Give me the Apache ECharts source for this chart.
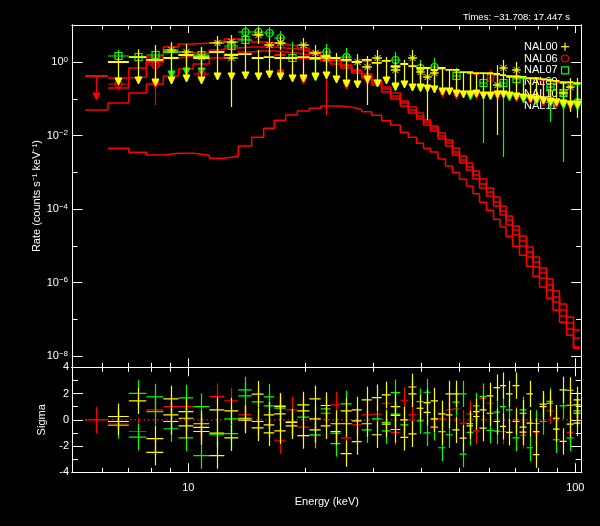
<!DOCTYPE html>
<html><head><meta charset="utf-8">
<script src="https://cdn.jsdelivr.net/npm/echarts@6/dist/echarts.min.js"></script>
<style>html,body{margin:0;padding:0;background:#000;}#c{width:600px;height:526px;}</style>
</head><body><div id="c"></div>
<script>
// ---------- data ----------
const binEdges = [5.41,6.20,7.02,7.79,8.62,9.43,10.30,11.33,12.39,13.46,14.58,15.66,16.68,17.85,19.13,20.54,21.98,23.30,24.76,26.44,28.06,29.78,31.60,33.34,35.30,37.02,38.88,40.53,42.25,44.18,46.19,48.15,50.21,52.35,54.42,56.55,58.95,61.46,63.88,66.22,68.83,71.75,74.80,77.75,80.82,84.26,87.58,91.03,94.91,98.93,103.1];

const modelU1 = [null,0.200,0.699,1.39,2.61,3.15,3.36,3.80,4.31,4.05,3.57,3.36,3.15,2.78,2.45,1.91,1.48,1.155,0.844,0.617,0.480,0.330,0.212,0.146,0.0883,0.0606,0.0416,0.0268,0.0184,0.0119,0.00764,0.00463,0.00280,0.00181,0.00109,6.62e-4,3.77e-4,2.14e-4,1.22e-4,6.50e-5,3.47e-5,1.85e-5,9.30e-6,4.97e-6,2.49e-6,1.25e-6,5.89e-7,2.60e-7,1.15e-7,5.10e-8];
const modelU2 = [null,0.374,0.398,1.02,1.31,1.48,1.79,2.16,2.45,2.61,2.61,2.61,2.45,2.30,2.03,1.68,1.39,1.085,0.793,0.579,0.423,0.273,0.187,0.121,0.0778,0.0502,0.0345,0.0236,0.0162,0.00982,0.00633,0.00360,0.00218,0.00141,8.51e-4,4.84e-4,2.93e-4,1.56e-4,8.89e-5,5.06e-5,2.70e-5,1.36e-5,6.80e-6,3.63e-6,1.82e-6,8.58e-7,4.04e-7,1.79e-7,7.91e-8,3.09e-8];
const modelU3 = [0.0502,0.0778,0.146,0.256,0.423,0.657,0.899,1.31,1.68,1.91,2.03,2.03,1.91,1.79,1.58,1.31,1.085,0.899,0.699,0.511,0.374,0.241,0.155,0.100,0.0645,0.0416,0.0285,0.0196,0.0134,0.00814,0.00525,0.00298,0.00181,0.00116,6.62e-4,3.77e-4,2.28e-4,1.22e-4,6.92e-5,3.70e-5,1.97e-5,9.90e-6,4.97e-6,2.65e-6,1.33e-6,6.27e-7,2.95e-7,1.23e-7,5.43e-8,1.76e-8];
const modelD = [null,4.54e-3,3.54e-3,2.98e-3,3.32e-3,3.32e-3,2.93e-3,2.43e-3,2.75e-3,5.25e-3,9.06e-3,1.59e-2,2.63e-2,3.67e-2,4.71e-2,5.58e-2,6.45e-2,6.45e-2,5.94e-2,5.24e-2,4.51e-2,3.60e-2,2.56e-2,1.96e-2,1.24e-2,9.06e-3,6.22e-3,4.54e-3,3.60e-3,2.32e-3,1.50e-3,1.01e-3,6.50e-4,4.27e-4,2.63e-4,1.54e-4,9.30e-5,5.29e-5,3.26e-5,1.82e-5,9.72e-6,5.53e-6,2.77e-6,1.48e-6,7.57e-7,3.72e-7,1.75e-7,8.27e-8,3.66e-8,1.62e-8];

// [bin, value, top, arrow tip]
const yellowArrows = [[1,1.02,1.39,0.241],[2,1.39,2.16,0.256],[3,1.16,2.96,0.226],[4,1.31,3.15,0.256],[5,1.58,2.96,0.291],[6,1.31,2.61,0.256],[7,1.91,4.05,0.330],[8,1.58,4.31,0.330],[9,1.68,5.54,0.351],[10,1.31,2.16,0.330],[11,1.39,2.16,0.374],[12,1.31,1.91,0.330],[13,1.31,2.16,0.291],[14,1.39,1.91,0.291],[15,1.31,1.91,0.330],[16,1.48,1.91,0.351],[17,1.31,1.79,0.273],[18,1.16,1.58,0.212],[19,1.02,1.39,0.200],[20,1.16,1.48,0.273],[21,0.96,1.31,0.212],[22,1.09,1.39,0.256],[23,0.79,1.02,0.176],[24,0.90,1.16,0.200],[25,0.79,0.96,0.165],[26,0.70,0.70,0.165],[27,0.70,0.70,0.155],[28,0.62,0.62,0.146],[29,0.70,0.70,0.129],[30,0.62,0.62,0.129],[31,0.62,0.62,0.113],[32,0.54,0.54,0.107],[33,0.54,0.54,0.107],[34,0.51,0.51,0.113],[35,0.51,0.51,0.100],[36,0.51,0.51,0.100],[37,0.48,0.48,0.107],[38,0.45,0.45,0.107],[39,0.42,0.42,0.100],[40,0.40,0.40,0.094],[41,0.40,0.40,0.088],[42,0.37,0.37,0.083],[43,0.37,0.37,0.078],[44,0.35,0.35,0.073],[45,0.33,0.33,0.069],[46,0.31,0.31,0.065],[47,0.29,0.29,0.061],[48,0.29,0.29,0.057],[49,0.27,0.27,0.057]];
const redArrows = [[0,0.423,0.423,0.094],[3,1.085,1.085,0.1995],[12,1.58,2.45,0.398],[14,1.31,1.31,0.256],[18,1.085,1.085,0.187],[20,1.085,1.085,0.241],[29,0.657,0.657,0.1134],[31,0.579,0.579,0.1001],[34,0.480,0.480,0.1001],[37,0.451,0.451,0.094],[40,0.374,0.374,0.0829],[42,0.351,0.351,0.0731],[44,0.330,0.330,0.0645],[46,0.291,0.291,0.0569],[48,0.273,0.273,0.0502]];
const greenArrows = [[4,1.91,1.91,0.374],[5,1.58,1.58,0.451],[6,1.48,1.48,0.451],[15,1.23,1.23,0.310],[23,0.745,0.745,0.1652],[26,0.657,0.657,0.1552],[33,0.511,0.511,0.094],[36,0.480,0.480,0.094],[39,0.398,0.398,0.0883],[41,0.374,0.374,0.0778],[43,0.351,0.351,0.0687],[45,0.310,0.310,0.0606],[47,0.273,0.273,0.0534],[49,0.256,0.256,0.0502]];

// [bin, value, top, bottom]
const redCircles = [[1,0.256,0.40,0.17],[3,0.844,1.394,0.0687],[6,0.480,0.699,0.33],[16,1.31,2.16,0.0367],[36,0.374,0.617,0.226]];
const greenSquares = [[1,1.484,2.16,1.02],[2,1.394,2.30,0.793],[3,1.58,2.61,0.957],[6,1.58,2.61,0.899],[8,2.78,4.31,1.79],[9,4.05,5.90,2.61],[13,1.31,3.57,0.374],[31,0.423,0.699,0.241],[35,0.273,0.480,0.00633],[38,0.273,0.480,0.00263],[40,0.351,0.579,0.1995],[45,0.212,0.374,0.0236],[47,0.146,0.256,0.00192]];
const greenRings = [[9,6.69,9.75,4.59],[10,6.69,9.75,4.05],[11,6.28,9.16,4.05],[12,4.59,7.12,2.78],[16,1.91,3.15,1.155],[18,1.39,2.45,0.793],[23,1.155,1.91,0.617],[26,0.699,1.155,0.398],[28,0.745,1.31,0.423],[49,0.0829,0.155,0.0443]];
const yellowStars = [[4,2.16,3.57,1.155],[5,1.91,3.15,1.02],[6,1.39,2.45,0.79],[7,3.36,5.21,2.16],[8,3.57,5.54,2.30],[8,1.31,2.16,0.061],[10,5.54,8.60,3.15],[11,2.96,4.59,1.91],[12,3.36,5.21,2.16],[14,2.96,4.59,1.91],[15,1.79,2.96,1.085],[16,1.31,2.16,0.79],[19,1.02,1.68,0.617],[20,0.745,1.31,0.0687],[21,1.31,2.16,0.793],[23,0.617,1.02,0.374],[25,1.31,2.16,0.699],[26,0.544,0.899,0.330],[27,0.398,0.699,0.0268],[28,0.511,0.844,0.291],[37,0.241,0.844,0.0105],[38,0.699,1.155,0.398],[40,0.617,1.02,0.351],[47,0.146,0.256,0.073],[48,0.212,0.374,0.0443]];
const yellowCrosses = [[49,0.273,0.374,0.0304]];

// residuals [bin, sigma]
const resYellow = [[1,0.25],[1,-0.13],[2,1.44],[3,-1.44],[3,-2.48],[4,1.59],[4,0.38],[4,-0.13],[5,0.63],[5,0.12],[5,-0.46],[6,-0.30],[6,-0.58],[6,-0.89],[7,0.76],[7,-1.01],[7,-2.73],[8,0.68],[8,-1.37],[9,0.12],[9,-0.03],[10,1.95],[10,-0.13],[10,-0.61],[11,0.38],[11,-0.38],[11,-0.99],[12,1.01],[12,0.45],[12,-0.84],[13,-0.2],[13,-0.46],[14,1.14],[14,0.68],[14,-1.21],[15,1.59],[15,0.07],[15,-0.76],[16,1.09],[16,-0.46],[17,-0.30],[17,-0.89],[18,0.68],[18,-0.30],[18,-2.58],[19,0.76],[19,-0.08],[19,-1.67],[20,1.52],[20,-0.30],[21,1.69],[21,-1.14],[22,1.90],[22,-0.33],[23,1.01],[23,0.33],[23,-0.74],[24,0.0],[24,-1.34],[25,2.50],[25,1.97],[25,-1.07],[26,0.88],[27,1.31],[27,0.56],[28,1.44],[28,0.07],[29,0.45],[29,-0.91],[30,1.97],[30,0.38],[31,1.97],[31,-0.76],[32,-1.39],[33,-0.30],[33,-0.46],[34,0.25],[34,0.63],[35,0.76],[35,-0.63],[36,1.82],[36,0.50],[37,2.45],[37,-0.13],[38,2.60],[38,-0.50],[39,1.97],[39,-0.96],[40,2.60],[40,-0.13],[41,0.50],[41,-0.56],[41,-0.94],[42,1.97],[42,-0.25],[43,-2.66],[43,-0.89],[44,1.19],[44,1.01],[45,1.26],[46,0.12],[46,-0.71],[47,2.28],[47,-1.65],[48,2.25],[48,1.11],[48,-0.33],[49,1.52],[49,1.14],[49,0.50],[49,-0.25]];
const resGreen = [[1,-0.43],[2,2.02],[2,-1.32],[3,1.74],[3,0.63],[4,-0.68],[5,1.67],[5,-1.37],[6,1.01],[6,-2.73],[7,-1.14],[8,0.07],[8,-1.06],[9,2.28],[9,1.82],[10,1.36],[11,1.74],[11,1.06],[12,1.06],[12,0.88],[13,-0.15],[14,0.20],[15,-1.14],[16,0.83],[16,0.50],[17,-1.01],[17,-1.82],[18,1.21],[20,-0.76],[21,0.07],[22,-0.20],[22,-0.84],[23,2.07],[23,0.43],[24,-0.38],[26,1.39],[26,-0.08],[27,2.10],[27,-0.99],[28,-0.58],[29,-2.13],[30,-1.14],[31,1.34],[32,1.97],[32,-2.61],[33,-0.96],[34,1.06],[35,1.77],[36,-0.81],[37,0.58],[37,-0.87],[38,1.01],[39,0.76],[40,-1.37],[41,0.76],[42,-2.13],[43,-0.28],[44,-0.13],[45,1.40],[46,-1.52],[47,1.06],[48,-1.37],[49,0.68]];
const resRed = [[0,0],[1,-0.33],[2,-0.89],[3,0.76],[4,1.01],[5,1.01],[6,-0.89],[7,1.77],[8,1.44],[9,0.38],[12,-1.60],[13,0.76],[14,-0.56],[15,-1.21],[17,1.14],[18,-1.37],[19,-0.38],[20,0.38],[21,0.43],[22,1.26],[23,-0.96],[24,1.49],[25,0.38],[26,0.88],[28,-0.50],[29,0.07],[30,0.76],[31,0.83],[32,-0.25],[33,0.45],[34,-0.84],[35,1.64],[36,1.26],[38,-0.89],[40,0],[41,-1.19],[43,-0.96],[45,0.68],[46,0.12],[48,-0.96],[49,0.68]];

// ticks
const energyMajor = [10, 100];
const energyMinor = [6,7,8,9,20,30,40,50,60,70,80,90];
const rateMajor = [1e-8,1e-6,1e-4,1e-2,1];
const rateMinor = [1e-7,1e-5,1e-3,1e-1,10];
const sigmaMajor = [-4,-2,0,2,4];
const sigmaMinor = [-3,-1,1,3];
const legendNames = ['NAL00','NAL06','NAL07','NAL09','NAL10','NAL11'];
const titleText = 'Times: \u221231.708: 17.447 s';

// ---------- build ----------
const lg = Math.log10;
const X_MIN = lg(5.006), X_MAX = 2.0165;
const Y_MIN = -8.308, Y_MAX = 1.016;
const S_MIN = -4, S_MAX = 4;
const FONT = '"Liberation Sans", Arial, sans-serif';
const YEL = '#ffff00', RED = '#ff0000', GRN = '#00ff00', WHT = '#ffffff';

function stepLine(vals) {
  const pts = []; let last = -1;
  vals.forEach((v, k) => { if (v != null) { pts.push([lg(binEdges[k]), lg(v)]); last = k; } });
  if (last >= 0) pts.push([lg(binEdges[last + 1]), lg(vals[last])]);
  return pts;
}
function rows(list) { return list.map(d => [lg(binEdges[d[0]]), lg(binEdges[d[0] + 1]), lg(d[1]), lg(d[2]), lg(d[3])]); }
function resRows(list) { return list.map(d => [lg(binEdges[d[0]]), lg(binEdges[d[0] + 1]), d[1], d[1] + 1, d[1] - 1]); }

function render(color, sym, lw) {
  return function (params, api) {
    const pL = api.coord([api.value(0), api.value(2)]);
    const pR = api.coord([api.value(1), api.value(2)]);
    const pT = api.coord([api.value(0), api.value(3)]);
    const pB = api.coord([api.value(0), api.value(4)]);
    const cx = Math.round((pL[0] + pR[0]) / 2) + 0.5, cy = pL[1], bot = pB[1];
    const st = { stroke: color, lineWidth: lw, fill: 'none' };
    const ch = [
      { type: 'line', shape: { x1: pL[0], y1: cy, x2: pR[0], y2: cy }, style: { stroke: color, lineWidth: sym === 'arrow' ? lw + 0.6 : lw } },
      { type: 'line', shape: { x1: cx, y1: pT[1], x2: cx, y2: bot }, style: st }
    ];
    if (sym === 'arrow') {
      ch.push({ type: 'polygon', shape: { points: [[cx - 3.5, bot - 7], [cx + 3.5, bot - 7], [cx, bot]] }, style: { fill: color, stroke: color, lineWidth: 1 } });
    } else if (sym === 'circle') {
      ch.push({ type: 'circle', shape: { cx: cx, cy: cy, r: 3.5 }, style: st });
    } else if (sym === 'square') {
      ch.push({ type: 'rect', shape: { x: cx - 3.5, y: cy - 3.5, width: 7, height: 7 }, style: st });
    } else if (sym === 'star') {
      [0, 45, 90, 135].forEach(a => {
        const r = a * Math.PI / 180, dx = 4.5 * Math.cos(r), dy = 4.5 * Math.sin(r);
        ch.push({ type: 'line', shape: { x1: cx - dx, y1: cy - dy, x2: cx + dx, y2: cy + dy }, style: { stroke: color, lineWidth: 1 } });
      });
    }
    return { type: 'group', children: ch };
  };
}
function custom(grid, data, color, sym, lw, z) {
  const ai = grid === 0 ? 0 : 4;
  return { type: 'custom', xAxisIndex: ai, yAxisIndex: ai, data: data, renderItem: render(color, sym, lw), z: z, silent: true, clip: true, animation: false };
}
function model(vals) {
  return { type: 'line', xAxisIndex: 0, yAxisIndex: 0, data: stepLine(vals), step: 'end', showSymbol: false, symbol: 'none', silent: true, z: 2,
    lineStyle: { color: RED, width: 1.5 }, animation: false };
}

function axis(grid, pos, min, max, ticks, len, extra) {
  return Object.assign({
    type: 'value', gridIndex: grid, position: pos, min: min, max: max,
    splitLine: { show: false }, minorTick: { show: false },
    axisLine: { show: true, onZero: false, lineStyle: { color: WHT, width: 1 } },
    axisTick: { show: true, inside: true, length: len, customValues: ticks, lineStyle: { color: WHT, width: 1 } },
    axisLabel: { show: false }
  }, extra || {});
}
const xMaj = energyMajor.map(lg), xMin = energyMinor.map(lg);
const yMaj = rateMajor.map(lg), yMin = rateMinor.map(lg);
const xFmt = v => String(Math.round(Math.pow(10, v)));
const yFmt = v => { const e = Math.round(v); return '{b|10}{s|' + (e < 0 ? '\u2212' + (-e) : String(e)) + '}'; };

const gTop = { left: 72, top: 25, width: 509.7, height: 342.3 };
const gBot = { left: 72, top: 367.3, width: 509.7, height: 105 };

const option = {
  backgroundColor: '#000',
  animation: false,
  title: { text: titleText, right: 30, top: 12, padding: 0, textStyle: { color: WHT, fontSize: 9.5, fontWeight: 'normal', fontFamily: FONT } },
  grid: [gTop, gTop, gBot, gBot],
  xAxis: [
    axis(0, 'bottom', X_MIN, X_MAX, xMaj, 9),
    axis(0, 'top', X_MIN, X_MAX, xMaj, 8),
    axis(1, 'bottom', X_MIN, X_MAX, xMin, 4.5),
    axis(1, 'top', X_MIN, X_MAX, xMin, 4.5),
    axis(2, 'bottom', X_MIN, X_MAX, xMaj, 9, { axisLabel: { show: true, customValues: xMaj, formatter: xFmt, color: WHT, fontSize: 11, fontFamily: FONT, margin: 10 },
      name: 'Energy (keV)', nameLocation: 'middle', nameGap: 24, nameMoveOverlap: false, nameTextStyle: { color: WHT, fontSize: 11, fontFamily: FONT } }),
    axis(2, 'top', X_MIN, X_MAX, xMaj, 9),
    axis(3, 'bottom', X_MIN, X_MAX, xMin, 4.5),
    axis(3, 'top', X_MIN, X_MAX, xMin, 4.5)
  ],
  yAxis: [
    axis(0, 'left', Y_MIN, Y_MAX, yMaj, 10.5, {
      axisLabel: { show: true, customValues: yMaj, formatter: yFmt, color: WHT, margin: 4,
        rich: { b: { fontSize: 11, fontFamily: FONT, color: WHT, lineHeight: 13 }, s: { fontSize: 8, fontFamily: FONT, color: WHT, lineHeight: 7, verticalAlign: 'top' } } },
      name: 'Rate (counts s\u207B\u00B9 keV\u207B\u00B9)', nameLocation: 'middle', nameGap: 30, nameMoveOverlap: false, nameTextStyle: { color: WHT, fontSize: 11, fontFamily: FONT } }),
    axis(0, 'right', Y_MIN, Y_MAX, yMaj, 10.5),
    axis(1, 'left', Y_MIN, Y_MAX, yMin, 5.5),
    axis(1, 'right', Y_MIN, Y_MAX, yMin, 5.5),
    axis(2, 'left', S_MIN, S_MAX, sigmaMajor, 11, {
      axisLabel: { show: true, customValues: sigmaMajor, formatter: v => String(v), color: WHT, fontSize: 11, fontFamily: FONT, margin: 3 },
      name: 'Sigma', nameLocation: 'middle', nameGap: 25, nameMoveOverlap: false, nameTextStyle: { color: WHT, fontSize: 11, fontFamily: FONT } }),
    axis(2, 'right', S_MIN, S_MAX, sigmaMajor, 11),
    axis(3, 'left', S_MIN, S_MAX, sigmaMinor, 6),
    axis(3, 'right', S_MIN, S_MAX, sigmaMinor, 6)
  ],
  graphic: [].concat(
    legendNames.map((n, i) => ({ type: 'text', x: 524, y: 46.7 + i * 11.8, z: 1,
      style: { text: n, fill: WHT, font: '11px ' + FONT, verticalAlign: 'middle', align: 'left' } })),
    [
      { type: 'line', z: 1, shape: { x1: 561, y1: 46.7, x2: 569, y2: 46.7 }, style: { stroke: YEL, lineWidth: 1.2 } },
      { type: 'line', z: 1, shape: { x1: 565, y1: 42.7, x2: 565, y2: 50.7 }, style: { stroke: YEL, lineWidth: 1.2 } },
      { type: 'circle', z: 1, shape: { cx: 565, cy: 58.5, r: 3.5 }, style: { stroke: RED, fill: 'none', lineWidth: 1.2 } },
      { type: 'rect', z: 1, shape: { x: 561.5, y: 66.8, width: 7, height: 7 }, style: { stroke: GRN, fill: 'none', lineWidth: 1.2 } }
    ]
  ),
  series: [
    model(modelD), model(modelU3), model(modelU2), model(modelU1),
    custom(0, rows(redArrows), RED, 'arrow', 1.2, 3),
    custom(0, rows(greenArrows), GRN, 'arrow', 1.2, 3),
    custom(0, rows(redCircles), RED, 'circle', 1.2, 4),
    custom(0, rows(greenSquares), GRN, 'square', 1.2, 4),
    custom(0, rows(greenRings), GRN, 'circle', 1.2, 4),
    custom(0, rows(yellowArrows), YEL, 'arrow', 1.2, 5),
    custom(0, rows(yellowCrosses), YEL, 'none', 1.2, 5),
    custom(0, rows(yellowStars), YEL, 'star', 1.2, 6),
    { type: 'line', xAxisIndex: 4, yAxisIndex: 4, data: [[lg(binEdges[0]), 0], [X_MAX, 0]], showSymbol: false, symbol: 'none', silent: true, z: 2,
      lineStyle: { color: RED, width: 1.5, type: [1.5, 3] }, animation: false },
    custom(2, resRows(resRed), RED, 'none', 1.2, 3),
    custom(2, resRows(resGreen), GRN, 'none', 1.2, 4),
    custom(2, resRows(resYellow), YEL, 'none', 1.2, 5)
  ]
};
const chart = echarts.init(document.getElementById('c'), null, { renderer: 'canvas' });
chart.setOption(option);
</script>
</body></html>
